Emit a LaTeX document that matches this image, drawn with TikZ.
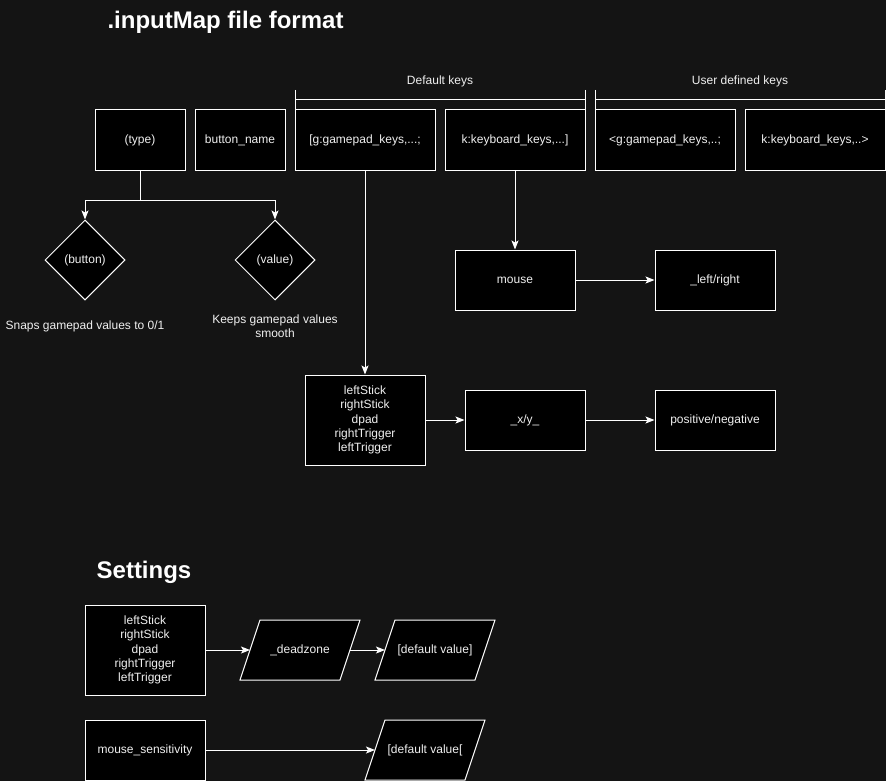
\documentclass[tikz,border=0pt]{standalone}
\usepackage{fontspec}
\setmainfont{Liberation Sans}
\usetikzlibrary{arrows.meta}
\usetikzlibrary{shapes.geometric}

\definecolor{canvas}{RGB}{20,20,20}
\definecolor{ink}{RGB}{240,240,240}

\tikzset{
  box/.style={draw=white, fill=black, text=ink, line width=1pt, minimum width=90pt, minimum height=60pt,
    inner sep=2pt, align=center, font=\fontsize{12}{14.4}\selectfont},
  keybox/.style={box, minimum width=140pt},
  widebox/.style={box, minimum width=120pt},
  listbox/.style={box, minimum width=120pt, minimum height=90pt},
  choice/.style={box, diamond, minimum width=80pt, minimum height=80pt, aspect=1, inner sep=0pt},
  valuebox/.style={text=ink, minimum width=100pt, minimum height=60pt, inner sep=0pt, outer sep=0pt,
    font=\fontsize{12}{14.4}\selectfont},
  frame/.style={draw=white, fill=black, line width=1pt},
  note/.style={text=ink, align=center, font=\fontsize{12}{14.4}\selectfont},
  heading/.style={text=white, font=\fontsize{24}{28}\selectfont\bfseries},
  link/.style={draw=white, line width=1pt, ->},
}

% slanted box for a value, frame first and then the named node on top
\newcommand\valuenode[3]{%
  \draw[frame] (#2) ++(-60,30) -- ++(20,-60) -- ++(100,0) -- ++(-20,60) -- cycle;
  \node[valuebox] (#1) at (#2) {#3};
}

\begin{document}
\begin{tikzpicture}[x=1pt, y=-1pt, >={Stealth[length=9pt,width=7pt,inset=2pt]}]
  \fill[canvas] (0,0) rectangle (886,781);
  \useasboundingbox (0,0) rectangle (886,781);

  \node[heading] (title) at (225.5,22) {.inputMap file format};

  % one line of the file
  \node[box] (typ) at (140,140) {(type)};
  \node[box] (bname) at (240,140) {button\_name};
  \node[keybox] (gpad) at (365,140) {[g:gamepad\_keys,...;};
  \node[keybox] (kbd) at (515,140) {k:keyboard\_keys,...]};
  \node[keybox] (ugpad) at (665,140) {<g:gamepad\_keys,..;};
  \node[keybox] (ukbd) at (815,140) {k:keyboard\_keys,..>};

  \node[note] (deflabel) at (440,81) {Default keys};
  \node[note] (userlabel) at (740,81) {User defined keys};
  \foreach \a/\b in {295/585, 595/885} {
    \draw[white, line width=1pt] (\a,90) -- (\a,110) (\b,90) -- (\b,110) (\a,100) -- (\b,100);
  }

  % type choices
  \node[choice] (bsel) at (85,260) {(button)};
  \node[choice] (vsel) at (275,260) {(value)};
  \node[note] (bnote) at (85,326.5) {Snaps gamepad values to 0/1};
  \node[note] (vnote) at (275,326) {Keeps gamepad values\\smooth};

  % gamepad and mouse keys
  \node[listbox] (sticks) at (365,420) {leftStick\\rightStick\\dpad\\rightTrigger\\leftTrigger};
  \node[widebox] (xy) at (525,420) {\_x/y\_};
  \node[widebox] (pn) at (715,420) {positive/negative};
  \node[widebox] (mouse) at (515,280) {mouse};
  \node[widebox] (lr) at (715,280) {\_left/right};

  \coordinate (fork) at (140,200);
  \draw[white, line width=1pt] (typ) -- (fork);
  \draw[link] (fork) -| (bsel);
  \draw[link] (fork) -| (vsel);
  \draw[link] (gpad) -- (sticks);
  \draw[link] (kbd) -- (mouse);
  \draw[link] (mouse) -- (lr);
  \draw[link] (sticks) -- (xy);
  \draw[link] (xy) -- (pn);

  % settings
  \node[heading] (settitle) at (144,572) {Settings};
  \node[listbox] (sticks2) at (145,650) {leftStick\\rightStick\\dpad\\rightTrigger\\leftTrigger};
  \valuenode{dz}{300,650}{\_deadzone}
  \valuenode{dflt1}{435,650}{[default value]}
  \node[widebox] (msens) at (145,750) {mouse\_sensitivity};
  \valuenode{dflt2}{425,750}{[default value[}

  \draw[link] (sticks2) -- (dz);
  \draw[link] (dz) -- (dflt1);
  \draw[link] (msens) -- (dflt2);
\end{tikzpicture}
\end{document}
